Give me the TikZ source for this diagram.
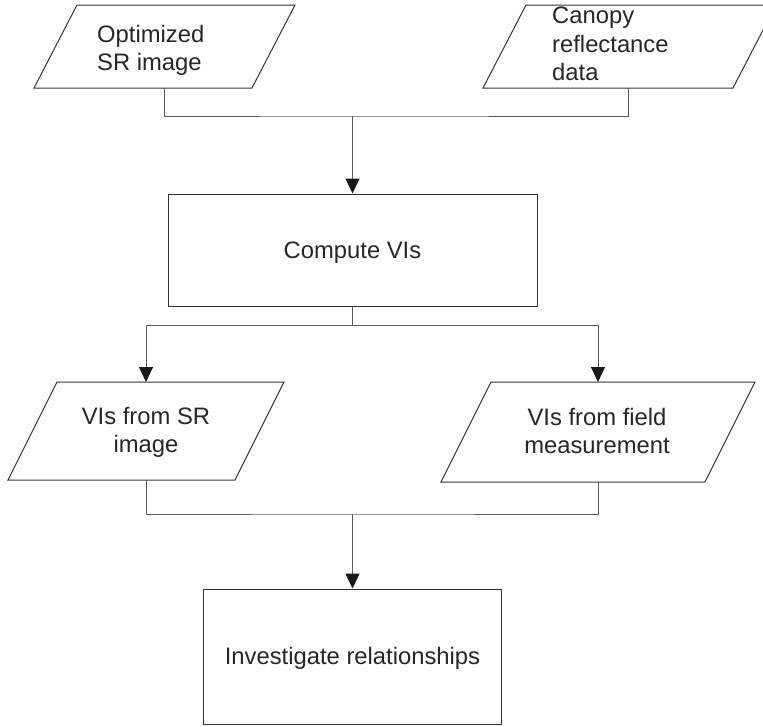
\documentclass[tikz,border=0pt]{standalone}
\usepackage{fontspec}
\setmainfont{Liberation Sans}
\usetikzlibrary{arrows.meta}
\begin{document}
\begin{tikzpicture}[x=1pt,y=-1pt,
  shp/.style={draw=black!80,line width=1pt},
  conn/.style={draw=black!65,line width=1pt},
  arr/.style={conn,-{Triangle[width=14pt,length=15pt,fill=black!90,color=black!90]}},
  txt/.style={font=\fontsize{23.8}{28.5}\selectfont, text=black!85, inner sep=0pt},
  box/.style={shp, rectangle, inner sep=0pt, text depth=0pt, text height=16.8pt,
    font=\fontsize{23.8}{28.5}\selectfont, text=black!85}]
\useasboundingbox (0,0) rectangle (763,726);
\clip (0,0) rectangle (763,726);

% input parallelograms (top)
\draw[shp] (77,5) -- (295,5) -- (252,88) -- (34,88) -- cycle;
\draw[shp] (526,5) -- (776,5) -- (733,88) -- (483,88) -- cycle;
\node[txt, anchor=north west, align=left] (opt) at (97,25) {Optimized\\SR image};
\node[txt, anchor=north west, align=left] (can) at (552,7) {Canopy\\reflectance\\data};

% compute box
\node[box, minimum width=369pt, minimum height=112pt] (cvi) at (352.5,250) {Compute VIs};

% output parallelograms (middle)
\draw[shp] (57,382) -- (284,382) -- (235,480) -- (8,480) -- cycle;
\draw[shp] (491,382) -- (755,382) -- (705,482) -- (441,482) -- cycle;
\node[txt, anchor=north, align=center] (vsr) at (146,407) {VIs from SR\\image};
\node[txt, anchor=north, align=center] (vfm) at (597,408) {VIs from field\\measurement};

% final box
\node[box, minimum width=298pt, minimum height=135pt] (inv) at (352.5,656.5) {Investigate relationships};

% connector coordinates
\coordinate (p1s) at (164,88);
\coordinate (p2s) at (628,88);
\coordinate (j1) at (352.5,116);
\coordinate (j2) at (352.5,325);
\coordinate (p3n) at (146,382);
\coordinate (p4n) at (598,382);
\coordinate (p3s) at (146,480);
\coordinate (p4s) at (598,482);
\coordinate (j3) at (352.5,514);

\draw[conn] (p1s) |- (j1) -| (p2s);
\draw[arr] (j1) -- (cvi.north);
\draw[conn] (cvi.south) -- (j2);
\draw[arr] (j2) -| (p3n);
\draw[arr] (j2) -| (p4n);
\draw[conn] (p3s) |- (j3) -| (p4s);
\draw[arr] (j3) -- (inv.north);
\end{tikzpicture}
\end{document}
